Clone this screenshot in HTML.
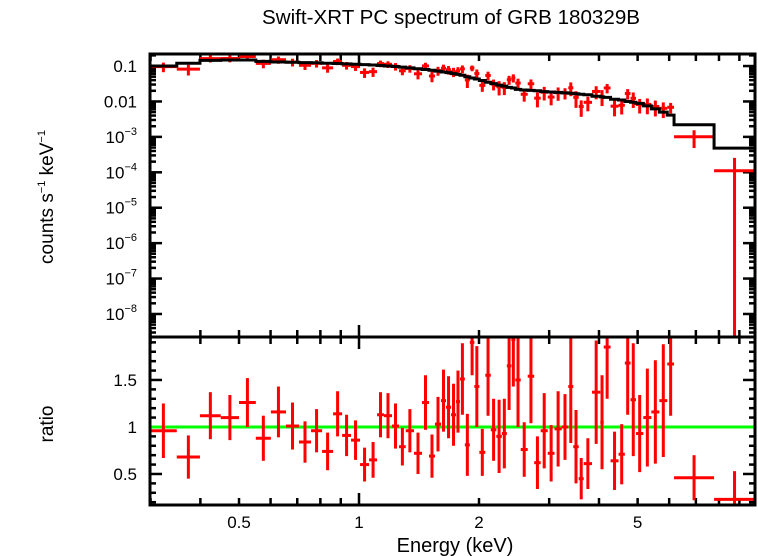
<!DOCTYPE html>
<html><head><meta charset="utf-8">
<style>
body{margin:0;background:#fff;}
svg{display:block;font-family:"Liberation Sans",sans-serif;}
</style></head>
<body>
<svg id="c" width="758" height="556"></svg>
<script>
// bin edges (keV)
const edges=[0.299,0.349,0.399,0.450,0.500,0.551,0.601,0.656,0.707,0.758,0.808,0.861,0.907,0.955,1.006,1.06,1.11,1.155,1.21,1.26,1.31,1.374,1.439,1.498,1.551,1.606,1.653,1.702,1.751,1.792,
1.843,1.897,1.947,2.004,2.074,2.141,2.211,2.282,2.349,2.411,2.467,2.545,2.650,2.751,2.856,2.975,3.094,3.225,3.350,3.448,3.558,3.662,3.842,4.031,4.111,4.276,4.478,4.644,4.799,4.954,5.168,5.413,5.669,5.933,6.171,7.776,9.85];
// data/model ratio and errors
const ratio=[0.96,0.68,1.12,1.10,1.26,0.88,1.16,1.01,0.84,0.96,0.74,1.14,0.91,0.86,0.60,0.65,1.13,1.12,1.01,0.79,0.96,0.72,1.26,0.69,1.03,1.28,1.21,1.13,1.27,
1.51,0.81,1.9,1.43,0.73,1.55,0.97,0.90,0.93,1.65,1.93,1.5,0.76,1.54,0.62,0.96,0.72,0.98,1.0,1.43,0.79,0.45,0.61,1.37,1.05,1.85,0.64,0.71,1.68,1.29,0.93,1.1,1.16,1.28,1.67,
0.46,0.23];
const ratioErr=[0.29,0.23,0.25,0.24,0.26,0.24,0.27,0.25,0.22,0.23,0.20,0.24,0.22,0.21,0.18,0.19,0.24,0.24,0.24,0.20,0.23,0.22,0.29,0.23,0.29,0.33,0.33,0.33,0.33,
0.38,0.33,0.35,0.43,0.25,0.43,0.33,0.39,0.37,0.47,0.5,0.5,0.29,0.5,0.28,0.4,0.3,0.4,0.35,0.6,0.39,0.22,0.27,0.55,0.5,0.55,0.31,0.32,0.55,0.6,0.41,0.52,0.55,0.6,0.55,
0.24,0.3];
// folded model (counts/s/keV)
const model=[0.10,0.12,0.145,0.148,0.148,0.135,0.13,0.128,0.125,0.124,0.12,0.118,0.115,0.112,0.11,0.107,0.104,0.1,0.097,0.093,0.089,0.084,0.08,0.076,0.072,0.068,0.065,0.061,0.058,
0.055,0.05,0.046,0.043,0.039,0.035,0.032,0.029,0.027,0.025,0.024,0.022,0.021,0.0205,0.02,0.019,0.0185,0.018,0.0175,0.017,0.0165,0.016,0.0155,0.014,0.0135,0.013,0.0115,0.011,0.01,0.0095,0.0088,0.0075,0.0062,0.005,0.0041,
0.0022,0.00048];
const xTicks=[0.5,1,2,5];
const xTickLabels=["0.5","1","2","5"];
const yTopTicks=[-1,-2,-3,-4,-5,-6,-7,-8];
const yBotTicks=[0.5,1,1.5];
const yBotLabels=["0.5","1","1.5"];

const NS="http://www.w3.org/2000/svg";
const svg=document.getElementById('c');
const L=150,R=755,T=54,M=337,B=505;
const xmin=Math.log10(0.299),xmax=Math.log10(9.85);
const X=e=>L+(Math.log10(e)-xmin)/(xmax-xmin)*(R-L);
const ytMax=-0.66,ytMin=-8.65;
const YT=v=>{const l=Math.log10(Math.max(v,1e-12));return T+(ytMax-l)/(ytMax-ytMin)*(M-T);};
const ybMax=1.957,ybMin=0.17;
const YB=v=>M+(ybMax-v)/(ybMax-ybMin)*(B-M);
function el(tag,attrs,parent){const e=document.createElementNS(NS,tag);for(const k in attrs)e.setAttribute(k,attrs[k]);(parent||svg).appendChild(e);return e;}
function line(x1,y1,x2,y2,col,w,p){return el('line',{x1,y1,x2,y2,stroke:col,'stroke-width':w},p);}
function clampT(y){return Math.min(Math.max(y,T),M);}
function clampB(y){return Math.min(Math.max(y,M),B);}

// title and labels
let t=el('text',{x:451,y:24,'text-anchor':'middle','font-size':20,textLength:378,lengthAdjust:'spacingAndGlyphs'});t.textContent='Swift-XRT PC spectrum of GRB 180329B';

t=el('text',{x:455,y:552,'text-anchor':'middle','font-size':20});t.textContent='Energy (keV)';

t=el('text',{x:0,y:0,'text-anchor':'middle','font-size':19,transform:'translate(53,197) rotate(-90)'});
t.innerHTML='counts s<tspan font-size="11" dy="-8">−1</tspan><tspan dy="8"> keV</tspan><tspan font-size="11" dy="-8">−1</tspan>';

t=el('text',{x:0,y:0,'text-anchor':'middle','font-size':19,transform:'translate(53,424) rotate(-90)'});t.textContent='ratio';


// axes ticks
const gA=el('g',{});

const minorE=[0.3,0.4,0.6,0.7,0.8,0.9,3,4,6,7,8,9];
for(const e of minorE.concat(xTicks)){const x=X(e);const len=(e===1)?12:7;
  line(x,T,x,T+len,'#000',2.5,gA);line(x,M,x,M-len,'#000',2.5,gA);line(x,M,x,M+len,'#000',2.5,gA);line(x,B,x,B-len,'#000',2.5,gA);}
xTicks.forEach((e,i)=>{const tt=el('text',{x:X(e),y:528,'text-anchor':'middle','font-size':17},gA);tt.textContent=xTickLabels[i];});
for(let d=-9;d<=0;d++){for(let m=1;m<=9;m++){const v=m*Math.pow(10,d);const y=YT(v);if(y<T||y>M)continue;const len=m===1?12:6;
  line(L,y,L+len,y,'#000',2.5,gA);line(R,y,R-len,y,'#000',2.5,gA);}}
yTopTicks.forEach(p=>{const y=YT(Math.pow(10,p));const tt=el('text',{x:137,y:y+6,'text-anchor':'end','font-size':17},gA);
  if(p===-1)tt.textContent='0.1';else if(p===-2)tt.textContent='0.01';else tt.innerHTML='10<tspan font-size="11" dy="-8">−'+(-p)+'</tspan>';});
for(let v=0.2;v<=1.95;v+=0.1){const y=YB(v);const maj=Math.abs(v*2-Math.round(v*2))<0.01;const len=maj?12:6;
  line(L,y,L+len,y,'#000',2.5,gA);line(R,y,R-len,y,'#000',2.5,gA);}
yBotTicks.forEach((v,i)=>{const tt=el('text',{x:137,y:YB(v)+6,'text-anchor':'end','font-size':17},gA);tt.textContent=yBotLabels[i];});

// top data
const gD=el('g',{});

for(let i=0;i<ratio.length;i++){const x1=X(edges[i]),x2=X(edges[i+1]),xc=X(Math.sqrt(edges[i]*edges[i+1]));
  const v=model[i]*ratio[i],er=model[i]*ratioErr[i];
  const y=YT(v),ylo=clampT(v-er>0?YT(v-er):M),yhi=clampT(YT(v+er));
  const g=el('g',{},gD);
  
  line(x1,y,x2,y,'#f00',3,g);line(xc,yhi,xc,ylo,'#f00',3,g);}
// model step
let d='';for(let i=0;i<model.length;i++){const y=YT(model[i]);d+=(i===0?'M':'L')+X(edges[i])+','+y+'L'+X(edges[i+1])+','+y;}
const mp=el('path',{d,fill:'none',stroke:'#000','stroke-width':3});


// ratio panel
const gl=line(L,YB(1),R,YB(1),'#0f0',3);

const gR=el('g',{});

for(let i=0;i<ratio.length;i++){const x1=X(edges[i]),x2=X(edges[i+1]),xc=X(Math.sqrt(edges[i]*edges[i+1]));
  const y=YB(ratio[i]);
  const g=el('g',{},gR);
  
  if(y>=M&&y<=B)line(x1,y,x2,y,'#f00',3,g);
  line(xc,clampB(YB(ratio[i]+ratioErr[i])),xc,clampB(YB(ratio[i]-ratioErr[i])),'#f00',3,g);}

// frames
const f1=el('rect',{x:L,y:T,width:R-L,height:M-T,fill:'none',stroke:'#000','stroke-width':3});

const f2=el('rect',{x:L,y:M,width:R-L,height:B-M,fill:'none',stroke:'#000','stroke-width':3});

</script>
</body></html>
